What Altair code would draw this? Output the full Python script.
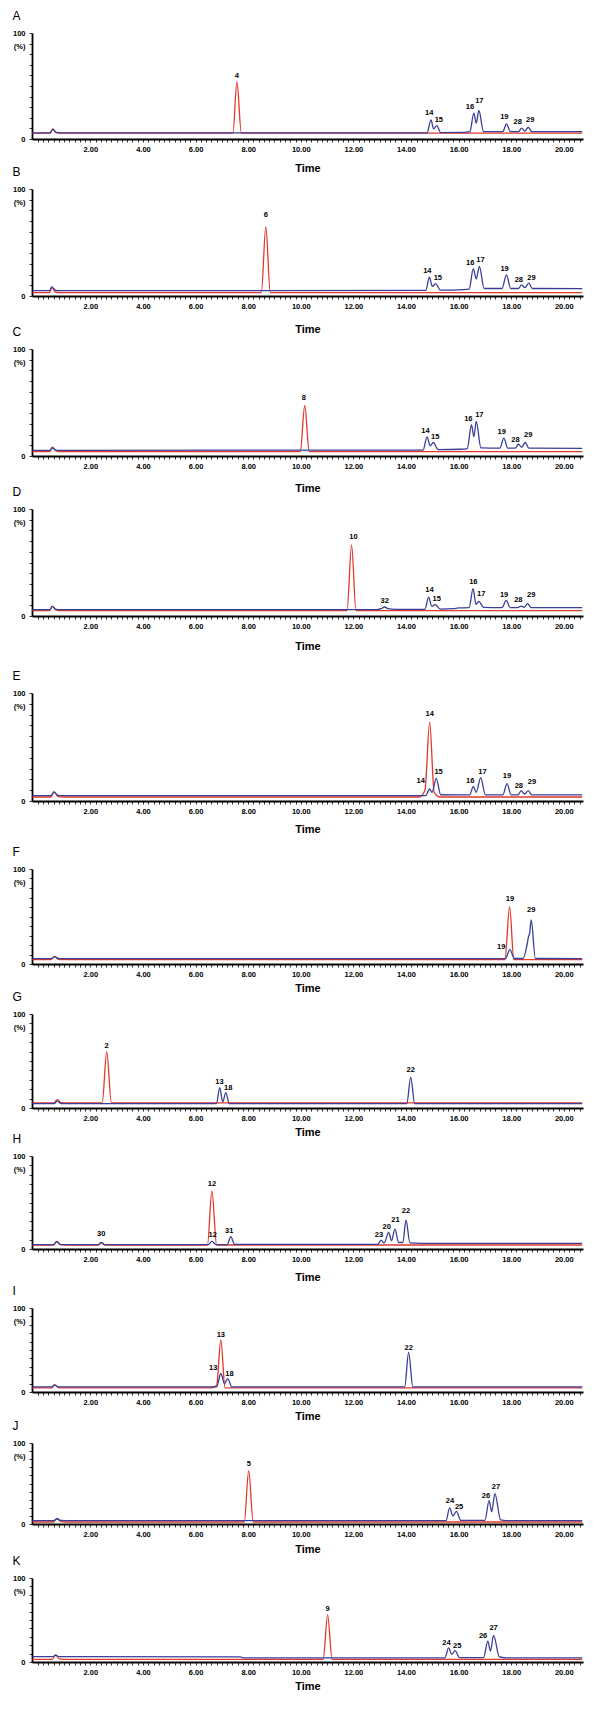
import altair as alt
import pandas as pd

# ---------------- data (time in min, intensity in %) -------------
A_red = [(-0.2, 5.5), (0.47, 5.5), (0.57, 9.5), (0.7, 6), (0.9, 5.5), (7.42, 5.5), (7.57, 54), (7.74, 5.5), (20.7, 5.5)]
A_blue = [(-0.2, 5.8), (0.47, 5.8), (0.57, 9), (0.7, 6.2), (0.9, 5.8), (14.8, 5.8), (14.95, 18), (15.05, 9.5), (15.17, 12.7),
          (15.32, 6), (16.2, 6.2), (16.43, 7), (16.58, 24.4), (16.67, 15), (16.77, 26.9), (16.95, 7), (17.68, 7), (17.82, 14.3),
          (17.97, 7), (18.28, 7), (18.4, 10.2), (18.52, 7.5), (18.65, 11.1), (18.78, 7), (20.7, 7)]
A_labels = [("4", 7.57, 59.6), ("14", 14.88, 24.2), ("15", 15.25, 18.3), ("16", 16.43, 30.5), ("17", 16.79, 36.2),
            ("19", 17.74, 20.5), ("28", 18.25, 16.4), ("29", 18.72, 18.3)]

B_red = [(-0.2, 3.1), (0.45, 3.1), (0.53, 8), (0.68, 3.5), (0.9, 3.1), (8.5, 3.1), (8.67, 64.5), (8.84, 3.1), (20.7, 3.1)]
B_blue = [(-0.2, 5), (0.45, 5), (0.53, 8.5), (0.68, 5.3), (0.9, 5), (14.75, 5.2), (14.89, 17.6), (15.0, 9), (15.13, 11.6),
          (15.3, 5.5), (16.2, 6), (16.4, 6.5), (16.56, 25.5), (16.67, 16), (16.79, 27.7), (16.97, 7), (17.65, 7), (17.82, 19.8),
          (17.98, 7), (18.28, 7), (18.39, 10.4), (18.52, 7.8), (18.67, 12), (18.8, 7), (20.7, 6.9)]
B_labels = [("6", 8.67, 75.8), ("14", 14.81, 23), ("15", 15.21, 16.7), ("16", 16.44, 30.8), ("17", 16.83, 33.3),
            ("19", 17.75, 25.5), ("28", 18.29, 14.8), ("29", 18.77, 17)]

C_red = [(-0.2, 4), (0.45, 4), (0.55, 8.2), (0.7, 4.5), (0.9, 4), (9.98, 4), (10.15, 47.2), (10.32, 4), (20.7, 4)]
C_blue = [(-0.2, 5.3), (0.45, 5.3), (0.55, 7.5), (0.7, 5.5), (0.9, 5.3), (14.65, 5.5), (14.8, 17.9), (14.92, 9.5), (15.04, 12.6),
          (15.22, 6), (16.1, 6.3), (16.33, 7), (16.49, 29.2), (16.58, 18), (16.67, 32.4), (16.85, 7.5), (17.57, 7.3), (17.72, 16.7),
          (17.87, 7.3), (18.15, 7.3), (18.27, 11), (18.4, 8.2), (18.53, 12.6), (18.67, 7.3), (20.7, 7.2)]
C_labels = [("8", 10.12, 54.4), ("14", 14.74, 23.6), ("15", 15.11, 17.3), ("16", 16.37, 34.6), ("17", 16.79, 38.7),
            ("19", 17.64, 22.3), ("28", 18.16, 15.1), ("29", 18.65, 19.2)]

D_red = [(-0.2, 5), (0.45, 5), (0.55, 9.3), (0.7, 5.5), (0.9, 5), (11.76, 5), (11.93, 66.5), (12.1, 5), (20.7, 5)]
D_blue = [(-0.2, 6), (0.45, 6), (0.55, 8.8), (0.7, 6.2), (0.9, 6), (12.9, 6), (13.05, 6.8), (13.19, 8.4), (13.32, 6.8),
          (13.6, 6.2), (14.72, 6.2), (14.86, 17.7), (14.98, 9), (15.11, 10.6), (15.3, 6.5), (15.8, 6.8), (16.0, 7.5),
          (16.4, 7.8), (16.55, 25.5), (16.66, 11), (16.77, 13.7), (16.95, 8), (17.65, 7.8), (17.81, 14.6), (17.96, 7.8),
          (18.25, 7.8), (18.37, 9.3), (18.5, 8.2), (18.62, 11.5), (18.76, 7.8), (20.7, 7.8)]
D_labels = [("10", 12.0, 74.2), ("32", 13.19, 13.7), ("14", 14.89, 23.9), ("15", 15.17, 15.5), ("16", 16.56, 31.7),
            ("17", 16.86, 20.8), ("19", 17.73, 19.3), ("28", 18.27, 14.9), ("29", 18.76, 19.3)]

E_red = [(-0.2, 3.7), (0.5, 3.7), (0.62, 8.7), (0.76, 4.2), (0.95, 3.7), (14.5, 3.7), (14.72, 10), (14.9, 73),
         (15.07, 8), (15.3, 3.7), (20.7, 3.7)]
E_blue = [(-0.2, 5), (0.5, 5), (0.62, 8.2), (0.76, 5.3), (0.95, 5), (14.75, 5), (14.9, 11.1), (14.99, 8), (15.15, 21),
          (15.32, 5.8), (16.42, 5.6), (16.56, 13.6), (16.67, 8), (16.84, 21.7), (17.02, 5.6), (17.68, 5.6), (17.84, 16.1),
          (18.0, 5.6), (18.26, 5.6), (18.38, 9.6), (18.51, 6.5), (18.65, 9.6), (18.78, 5.6), (20.7, 5.6)]
E_labels = [("14", 14.9, 80.5), ("14", 14.56, 18.6), ("15", 15.24, 27.2), ("16", 16.44, 18.6), ("17", 16.91, 27.2),
            ("19", 17.84, 23.5), ("28", 18.29, 13.6), ("29", 18.79, 18)]

F_red = [(-0.2, 4.6), (0.5, 4.6), (0.64, 8.1), (0.78, 5), (0.95, 4.6), (17.76, 4.6), (17.94, 60.4), (18.1, 4.6), (20.7, 4.6)]
F_blue = [(-0.2, 5.7), (0.5, 5.7), (0.64, 7.6), (0.78, 5.9), (0.95, 5.7), (17.78, 5.7), (17.95, 15.2), (18.12, 5.8),
          (18.45, 5.8), (18.6, 20), (18.66, 29), (18.7, 32), (18.76, 46.3), (18.92, 5.8), (20.7, 5.7)]
F_labels = [("19", 17.95, 68.9), ("19", 17.62, 18), ("29", 18.76, 57.2)]

G_red = [(-0.2, 5.5), (0.62, 5.5), (0.74, 8.9), (0.88, 5.8), (1.05, 5.5), (2.45, 5.5), (2.62, 60), (2.8, 5.5), (20.7, 5.5)]
G_blue = [(-0.2, 4.6), (0.62, 4.6), (0.74, 7.5), (0.88, 4.8), (1.05, 4.6), (6.79, 4.6), (6.92, 21.7), (7.03, 6.5),
          (7.15, 16.3), (7.28, 4.6), (14.03, 4.6), (14.18, 32.9), (14.33, 4.6), (20.7, 4.6)]
G_labels = [("2", 2.62, 65.8), ("13", 6.91, 27.7), ("18", 7.24, 21.4), ("22", 14.18, 40.4)]

H_red = [(-0.2, 4.3), (0.6, 4.3), (0.72, 8.2), (0.86, 4.7), (1.05, 4.3), (2.3, 4.3), (2.41, 6.5), (2.55, 4.3),
         (6.45, 4.3), (6.62, 62.5), (6.8, 4.3), (20.7, 4.3)]
H_blue = [(-0.2, 4.6), (0.6, 4.6), (0.72, 7.8), (0.86, 4.8), (1.05, 4.6), (2.3, 4.6), (2.41, 7.1), (2.55, 4.6),
          (6.48, 4.6), (6.62, 8.2), (6.78, 4.8), (7.2, 4.8), (7.34, 13.2), (7.48, 5), (12.93, 5), (13.05, 9.6),
          (13.17, 6.5), (13.34, 17.9), (13.45, 9), (13.58, 21.4), (13.72, 7), (13.88, 7), (14.0, 31.1), (14.15, 6.5),
          (14.6, 6), (20.7, 6)]
H_labels = [("30", 2.41, 16), ("12", 6.62, 69.6), ("12", 6.65, 15), ("31", 7.28, 18.9), ("23", 12.97, 15),
            ("20", 13.27, 23.2), ("21", 13.6, 31), ("22", 14.0, 40.4)]

I_red = [(-0.2, 4.8), (0.52, 4.8), (0.64, 8.8), (0.78, 5.2), (0.95, 4.8), (6.6, 4.8), (6.8, 8), (6.96, 62), (7.12, 5),
         (7.3, 4.8), (20.7, 4.8)]
I_blue = [(-0.2, 6), (0.52, 6), (0.64, 8.3), (0.78, 6.2), (0.95, 6), (6.8, 6), (6.96, 22), (7.1, 10), (7.22, 16),
          (7.38, 6), (13.95, 6), (14.1, 47.2), (14.26, 6), (20.7, 6)]
I_labels = [("13", 6.96, 68), ("13", 6.67, 28), ("18", 7.29, 22), ("22", 14.1, 52)]

J_red = [(-0.2, 2.5), (0.6, 2.5), (0.73, 7), (0.87, 3), (1.05, 2.5), (7.85, 2.5), (8.02, 65.9), (8.19, 2.5), (20.7, 2.5)]
J_blue = [(-0.2, 4.2), (0.6, 4.2), (0.73, 6.5), (0.87, 4.4), (1.05, 4.2), (15.52, 4.2), (15.66, 19.8), (15.78, 10),
          (15.92, 15.7), (16.08, 4.5), (17.0, 4.5), (17.16, 28.9), (17.26, 15), (17.38, 37.5), (17.6, 5), (17.8, 4.2),
          (20.7, 4.2)]
J_labels = [("5", 8.02, 74), ("24", 15.67, 28), ("25", 16.02, 21), ("26", 17.04, 35), ("27", 17.42, 45.3)]

K_red = [(-0.2, 3.2), (0.55, 3.2), (0.68, 8.8), (0.82, 3.6), (1.0, 3.2), (10.85, 3.2), (11.02, 56), (11.19, 3.2), (20.7, 3.2)]
K_blue = [(-0.2, 6.4), (0.55, 6.4), (0.68, 8), (0.82, 6.4), (7.7, 6.2), (7.8, 5), (15.48, 5), (15.62, 16.8), (15.74, 9),
          (15.87, 13.6), (16.03, 5.2), (16.95, 5.2), (17.11, 24.8), (17.21, 13), (17.33, 31.6), (17.55, 6), (17.8, 5),
          (20.7, 5)]
K_labels = [("9", 11.02, 62.8), ("24", 15.54, 22.8), ("25", 15.95, 18.8), ("26", 16.93, 30.8), ("27", 17.33, 40)]

PANELS = ["A", "B", "C", "D", "E", "F", "G", "H", "I", "J", "K"]
X_TICKS = [round(0.2 * i, 1) for i in range(0, 104)]
Y_TICKS = [0, 10, 20, 30, 40, 50, 60, 70, 80, 90, 100]

# ---------------- layout / style ----------------
FONT = "Liberation Sans"
RED = "#e2392c"
BLUE = "#3b3e98"
X_DOMAIN = [-0.22, 20.73]
PLOT_W = 551
HEIGHTS = [106, 107, 107, 107, 108, 95, 94, 93, 84, 81, 84]
GAPS = [50, 53, 53, 77, 68, 50, 48, 59, 51, 54]
TIME_PAD = [10, 14, 13, 11, 9, 5, 5, 9, 5, 6, 5]

series = {
    "A": (A_red, A_blue, A_labels), "B": (B_red, B_blue, B_labels), "C": (C_red, C_blue, C_labels),
    "D": (D_red, D_blue, D_labels), "E": (E_red, E_blue, E_labels), "F": (F_red, F_blue, F_labels),
    "G": (G_red, G_blue, G_labels), "H": (H_red, H_blue, H_labels), "I": (I_red, I_blue, I_labels),
    "J": (J_red, J_blue, J_labels), "K": (K_red, K_blue, K_labels),
}


def make_panel(letter, h, tpad):
    red, blue, labels = series[letter]
    df_red = pd.DataFrame(red, columns=["t", "v"])
    df_blue = pd.DataFrame(blue, columns=["t", "v"])
    df_lab = pd.DataFrame(labels, columns=["txt", "t", "v"])

    x = alt.X("t:Q", title="Time",
              scale=alt.Scale(domain=X_DOMAIN, nice=False, zero=False),
              axis=alt.Axis(values=X_TICKS,
                            labelExpr="datum.value > 0 && datum.value % 2 == 0 ? format(datum.value, '.2f') : ''",
                            labelOverlap=False, labelFlush=False, grid=False,
                            labelFont=FONT, labelFontSize=7.5, labelFontWeight="bold", labelColor="black",
                            labelPadding=3, tickSize=3, tickWidth=0.8, tickColor="black",
                            domainColor="black", domainWidth=1.8,
                            titleFont=FONT, titleFontSize=11, titleFontWeight="bold", titleColor="black",
                            titlePadding=tpad))
    y = alt.Y("v:Q", title="(%)",
              scale=alt.Scale(domain=[0, 100], nice=False, zero=True),
              axis=alt.Axis(values=Y_TICKS,
                            labelExpr="datum.value == 100 ? '100' : (datum.value == 0 ? '0' : '')",
                            labelOverlap=False, grid=False,
                            labelFont=FONT, labelFontSize=7.5, labelFontWeight="bold", labelColor="black",
                            labelPadding=4, tickSize=3, tickWidth=0.8, tickColor="black",
                            domainColor="black", domainWidth=1.8,
                            titleFont=FONT, titleFontSize=7.5, titleFontWeight="bold", titleColor="black",
                            titleAngle=0, titleAlign="right", titleBaseline="middle", titleX=-7, titleY=13))

    red_line = alt.Chart(df_red).mark_line(color=RED, strokeWidth=1.3, interpolate="monotone").encode(x=x, y=y)
    blue_line = alt.Chart(df_blue).mark_line(color=BLUE, strokeWidth=1.3, interpolate="monotone").encode(x=x, y=y)
    text = alt.Chart(df_lab).mark_text(font=FONT, fontSize=7.5, fontWeight="bold", color="black",
                                       baseline="middle", align="center").encode(x=x, y=y, text="txt:N")
    return alt.layer(red_line, blue_line, text).properties(
        width=PLOT_W, height=h,
        title=alt.TitleParams(letter, anchor="start", frame="bounds", font=FONT, fontSize=12,
                              fontWeight="normal", color="black", offset=6))


def spacer(gap):
    return alt.Chart(pd.DataFrame({"t": [0]})).mark_point(opacity=0).encode(
        x=alt.value(0), y=alt.value(0)).properties(width=PLOT_W, height=gap)


items = []
for i, letter in enumerate(PANELS):
    items.append(make_panel(letter, HEIGHTS[i], TIME_PAD[i]))
    if i < len(GAPS):
        items.append(spacer(GAPS[i]))

chart = alt.vconcat(*items, spacing=0, bounds="flush").properties(
    padding={"left": 4, "top": 2, "right": 5, "bottom": 5}
).configure(font=FONT).configure_view(strokeWidth=0, stroke="transparent")

chart.save("out.html", embed_options={"renderer": "svg", "actions": False})
